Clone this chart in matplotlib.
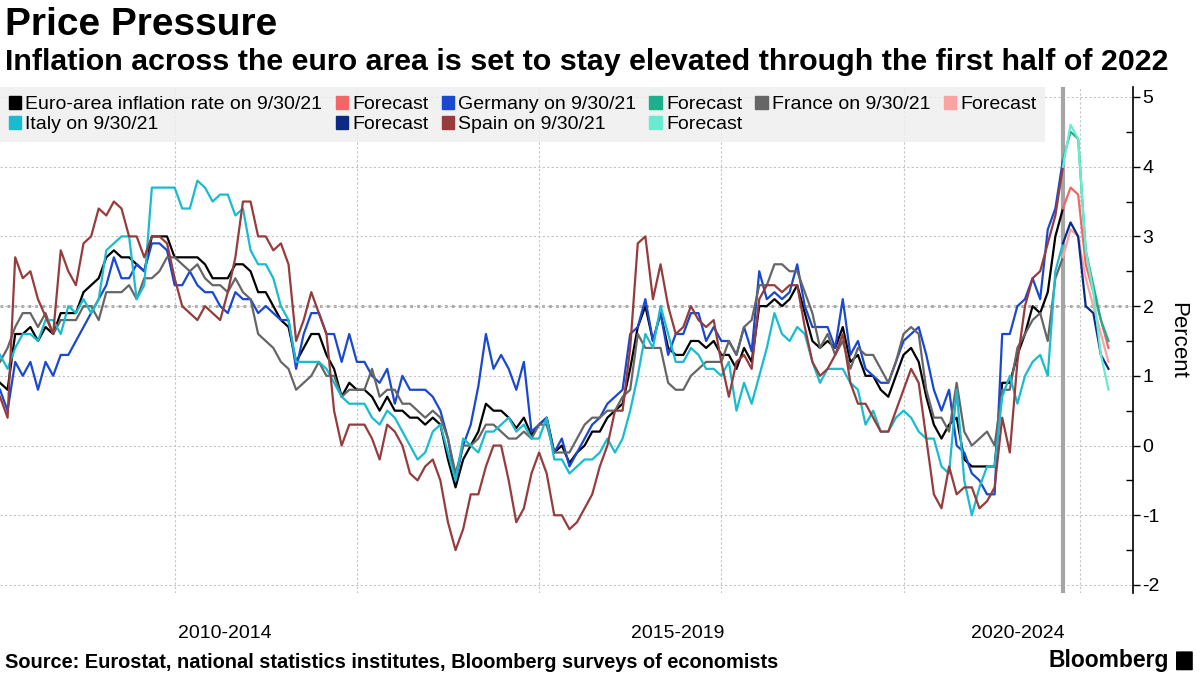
import numpy as np
import matplotlib.pyplot as plt
from matplotlib.patches import Patch, FancyBboxPatch

plt.rcParams['font.family'] = ['Liberation Sans', 'DejaVu Sans']
plt.rcParams['axes.unicode_minus'] = False

# monthly inflation, % y/y, index 0 = Jan 2010 ... 140 = Sep 2021
euro = [0.9, 0.8, 1.6, 1.6, 1.7, 1.5, 1.7, 1.6, 1.9, 1.9, 1.9, 2.2,
        2.3, 2.4, 2.7, 2.8, 2.7, 2.7, 2.6, 2.5, 3.0, 3.0, 3.0, 2.7,
        2.7, 2.7, 2.7, 2.6, 2.4, 2.4, 2.4, 2.6, 2.6, 2.5, 2.2, 2.2,
        2.0, 1.8, 1.7, 1.2, 1.4, 1.6, 1.6, 1.3, 1.1, 0.7, 0.9, 0.8,
        0.8, 0.7, 0.5, 0.7, 0.5, 0.5, 0.4, 0.4, 0.3, 0.4, 0.3, -0.2,
        -0.6, -0.2, 0.0, 0.2, 0.6, 0.5, 0.5, 0.4, 0.25, 0.4, 0.15, 0.3,
        0.4, -0.1, 0.0, -0.25, -0.1, 0.0, 0.2, 0.2, 0.4, 0.5, 0.6, 1.1,
        1.7, 2.0, 1.5, 1.9, 1.4, 1.3, 1.3, 1.5, 1.5, 1.4, 1.5, 1.3,
        1.3, 1.1, 1.4, 1.2, 2.0, 2.0, 2.1, 2.0, 2.1, 2.3, 1.9, 1.5,
        1.4, 1.5, 1.4, 1.7, 1.2, 1.3, 1.0, 1.0, 0.8, 0.7, 1.0, 1.3,
        1.4, 1.2, 0.7, 0.3, 0.1, 0.3, 0.4, -0.2, -0.3, -0.3, -0.3, -0.3,
        0.9, 0.9, 1.3, 1.6, 2.0, 1.9, 2.2, 3.0, 3.4]

germany = [0.8, 0.5, 1.2, 1.0, 1.2, 0.8, 1.2, 1.0, 1.3, 1.3, 1.5, 1.7,
           1.9, 2.1, 2.3, 2.7, 2.4, 2.4, 2.6, 2.5, 2.9, 2.9, 2.8, 2.3,
           2.3, 2.5, 2.3, 2.2, 2.2, 2.0, 1.9, 2.2, 2.1, 2.1, 1.9, 2.0,
           1.9, 1.8, 1.8, 1.1, 1.6, 1.9, 1.9, 1.6, 1.6, 1.2, 1.6, 1.2,
           1.2, 1.0, 0.9, 1.1, 0.6, 1.0, 0.8, 0.8, 0.8, 0.7, 0.5, 0.1,
           -0.5, 0.0, 0.3, 0.85, 1.6, 1.1, 1.3, 1.1, 0.8, 1.2, 0.2, 0.3,
           0.4, -0.1, 0.1, -0.3, -0.1, 0.1, 0.3, 0.4, 0.6, 0.7, 0.8, 1.6,
           1.7, 2.1, 1.5, 1.9, 1.3, 1.6, 1.6, 1.9, 1.9, 1.5, 1.7, 1.5,
           1.5, 1.3, 1.7, 1.35, 2.5, 2.1, 2.2, 2.1, 2.2, 2.6, 2.0, 1.7,
           1.7, 1.7, 1.4, 2.1, 1.3, 1.5, 1.1, 1.0, 0.9, 0.9, 1.2, 1.5,
           1.6, 1.7, 1.3, 0.8, 0.5, 0.8, 0.0, -0.1, -0.4, -0.5, -0.7, -0.7,
           1.6, 1.6, 2.0, 2.1, 2.4, 2.1, 3.1, 3.4, 4.1]

france = [1.2, 1.4, 1.7, 1.9, 1.9, 1.7, 1.9, 1.6, 1.8, 1.8, 1.8, 2.0,
          2.0, 1.8, 2.2, 2.2, 2.2, 2.3, 2.1, 2.4, 2.4, 2.5, 2.7, 2.7,
          2.6, 2.5, 2.6, 2.4, 2.3, 2.3, 2.2, 2.4, 2.2, 2.1, 1.6, 1.5,
          1.4, 1.2, 1.1, 0.8, 0.9, 1.0, 1.2, 1.0, 1.0, 0.7, 0.8, 0.8,
          0.8, 1.1, 0.7, 0.8, 0.8, 0.6, 0.6, 0.5, 0.4, 0.5, 0.4, 0.1,
          -0.4, 0.0, 0.0, 0.1, 0.3, 0.3, 0.2, 0.1, 0.1, 0.2, 0.1, 0.3,
          0.3, -0.1, -0.1, -0.1, 0.1, 0.3, 0.4, 0.4, 0.5, 0.5, 0.7, 0.8,
          1.6, 1.4, 1.4, 1.4, 0.9, 0.8, 0.8, 1.0, 1.1, 1.2, 1.2, 1.2,
          1.5, 1.3, 1.7, 1.8, 2.3, 2.3, 2.6, 2.6, 2.5, 2.5, 2.2, 1.9,
          1.4, 1.6, 1.3, 1.5, 1.1, 1.4, 1.3, 1.3, 1.1, 0.9, 1.2, 1.6,
          1.7, 1.6, 0.8, 0.4, 0.4, 0.2, 0.9, 0.2, 0.0, 0.1, 0.2, 0.0,
          0.8, 0.8, 1.4, 1.6, 1.8, 1.9, 1.5, 2.4, 2.7]

italy = [1.3, 1.1, 1.4, 1.6, 1.6, 1.5, 1.8, 1.8, 1.6, 2.0, 1.9, 2.1,
         1.9, 2.1, 2.8, 2.9, 3.0, 3.0, 2.1, 2.3, 3.7, 3.7, 3.7, 3.7,
         3.4, 3.4, 3.8, 3.7, 3.5, 3.6, 3.6, 3.3, 3.4, 2.8, 2.6, 2.6,
         2.4, 2.0, 1.8, 1.2, 1.2, 1.2, 1.2, 1.1, 0.9, 0.7, 0.6, 0.6,
         0.6, 0.4, 0.3, 0.5, 0.4, 0.2, 0.0, -0.2, -0.1, 0.2, 0.3, -0.1,
         -0.5, 0.1, 0.0, -0.1, 0.2, 0.2, 0.3, 0.4, 0.2, 0.3, 0.1, 0.1,
         0.4, -0.2, -0.2, -0.4, -0.3, -0.2, -0.2, -0.1, 0.1, -0.1, 0.1, 0.5,
         1.0, 1.6, 1.4, 2.0, 1.6, 1.2, 1.2, 1.4, 1.3, 1.1, 1.1, 1.0,
         1.2, 0.5, 0.9, 0.6, 1.0, 1.4, 1.9, 1.6, 1.5, 1.7, 1.6, 1.2,
         0.9, 1.1, 1.1, 1.1, 0.9, 0.8, 0.3, 0.5, 0.2, 0.2, 0.4, 0.5,
         0.4, 0.2, 0.1, 0.1, -0.3, -0.4, 0.8, -0.5, -1.0, -0.6, -0.3, -0.3,
         0.7, 1.0, 0.6, 1.0, 1.2, 1.3, 1.0, 2.5, 2.9]

spain = [0.7, 0.4, 2.7, 2.4, 2.5, 2.1, 1.85, 1.6, 2.8, 2.5, 2.3, 2.9,
         3.0, 3.4, 3.3, 3.5, 3.4, 3.0, 3.0, 2.7, 3.0, 3.0, 2.9, 2.4,
         2.0, 1.9, 1.8, 2.0, 1.9, 1.8, 2.2, 2.7, 3.5, 3.5, 3.0, 3.0,
         2.8, 2.9, 2.6, 1.5, 1.8, 2.2, 1.9, 1.6, 0.5, 0.0, 0.3, 0.3,
         0.3, 0.1, -0.2, 0.3, 0.2, 0.0, -0.4, -0.5, -0.3, -0.2, -0.5, -1.1,
         -1.5, -1.2, -0.7, -0.7, -0.3, 0.0, 0.0, -0.5, -1.1, -0.9, -0.4, -0.1,
         -0.4, -1.0, -1.0, -1.2, -1.1, -0.9, -0.7, -0.3, 0.0, 0.5, 0.5, 1.4,
         2.9, 3.0, 2.1, 2.6, 2.0, 1.6, 1.7, 2.0, 1.8, 1.7, 1.8, 1.2,
         0.7, 1.2, 1.3, 1.1, 2.1, 2.3, 2.3, 2.2, 2.3, 2.3, 1.7, 1.2,
         1.0, 1.1, 1.3, 1.6, 0.9, 0.6, 0.6, 0.4, 0.2, 0.2, 0.5, 0.8,
         1.1, 0.9, 0.1, -0.7, -0.9, -0.3, -0.7, -0.6, -0.6, -0.9, -0.8, -0.6,
         0.4, -0.1, 1.2, 2.0, 2.4, 2.5, 2.9, 3.3, 4.0]

# survey forecasts, Sep 2021 onward
fc_euro = [3.4, 3.7, 3.6, 2.6, 2.2, 1.8, 1.4]
fc_germany = [4.1, 4.5, 4.4, 2.8, 2.3, 1.8, 1.5]
fc_france = [2.7, 3.1, 3.0, 2.4, 2.0, 1.6, 1.2]
fc_italy = [2.9, 3.2, 3.0, 2.0, 1.9, 1.3, 1.1]
fc_spain = [4.0, 4.6, 4.4, 2.8, 2.2, 1.3, 0.8]

period_labels = ['2010-2014', '2015-2019', '2020-2024']
period_pos = [29.6, 89.2, 134.0]
grid_months = [23, 47, 71, 95, 119, 142.2]

months = np.arange(len(euro))
fc_months = np.arange(len(euro) - 1, len(euro) - 1 + len(fc_euro))

series = [
    ('Euro-area inflation rate on 9/30/21', euro, '#000000', fc_euro, '#f26666'),
    ('Germany on 9/30/21', germany, '#1a48d0', fc_germany, '#1daf8a'),
    ('France on 9/30/21', france, '#666666', fc_france, '#f9a3a3'),
    ('Italy on 9/30/21', italy, '#19bccf', fc_italy, '#0c2a85'),
    ('Spain on 9/30/21', spain, '#963c3c', fc_spain, '#6aebd0'),
]

fig = plt.figure(figsize=(12, 6.75), dpi=100)
ax = fig.add_axes([0.0, 0.1215, 0.944, 0.7496])

for name, vals, col, fc, fcol in series:
    ax.plot(months, vals, color=col, lw=1.6, zorder=3)
for name, vals, col, fc, fcol in series:
    ax.plot(fc_months, fc, color=fcol, lw=1.6, zorder=3)

ax.axvline(len(euro) - 1, color='#a5a5a5', lw=3, zorder=2)
ax.axhline(2, color='#a0a0a0', lw=2, ls=(0, (1, 1.5)), zorder=1)

ax.set_xlim(0, 149.2)
ax.set_ylim(-2.115, 5.143)
ax.set_yticks(range(-2, 6))
ax.set_yticks(np.arange(-1.5, 5, 1), minor=True)
ax.set_xticks(grid_months)
ax.set_xticklabels([])
ax.tick_params(axis='x', length=0)
ax.grid(True, which='major', color='#c4c4c4', lw=0.8, ls=(0, (2, 2)), zorder=0)
ax.yaxis.tick_right()
ax.tick_params(axis='y', which='major', direction='out', length=5, width=1,
               labelsize=14, pad=2)
ax.tick_params(axis='y', which='minor', direction='in', length=5, width=1)
for s in ['top', 'left', 'bottom']:
    ax.spines[s].set_visible(False)
ax.spines['right'].set_linewidth(1.2)
ax.yaxis.set_label_position('right')
ax.set_ylabel('Percent', rotation=270, fontsize=16, labelpad=20)

for lab, pos in zip(period_labels, period_pos):
    ax.text(pos, -0.081, lab, transform=ax.get_xaxis_transform(),
            ha='center', va='center', fontsize=14)

# legend laid out row-wise in 6 columns (matplotlib fills column-wise)
h = {}
for name, vals, col, fc, fcol in series:
    h[name] = Patch(color=col, label=name)
    h[name + 'fc'] = Patch(color=fcol, label='Forecast')
names = [s[0] for s in series]
order = [names[0], names[3], names[0] + 'fc', names[3] + 'fc',
         names[1], names[4], names[1] + 'fc', names[4] + 'fc',
         names[2], names[2] + 'fc']
leg = ax.legend([h[k] for k in order], [h[k].get_label() for k in order],
                ncol=6, loc='upper left', bbox_to_anchor=(0.0, 1.0),
                borderaxespad=0, fontsize=14, frameon=True, fancybox=False,
                facecolor='#efefef', edgecolor='none', framealpha=0.85,
                handlelength=0.65, handleheight=0.65, handletextpad=0.2,
                columnspacing=0.68, labelspacing=0.15, borderpad=0.45)
leg.set_zorder(5)

fig.text(0.004, 0.963, 'Price Pressure', fontsize=28, fontweight='bold',
         ha='left', va='center')
fig.text(0.004, 0.908, 'Inflation across the euro area is set to stay elevated '
         'through the first half of 2022', fontsize=21.9, fontweight='bold',
         ha='left', va='center')
fig.text(0.004, 0.019, 'Source: Eurostat, national statistics institutes, '
         'Bloomberg surveys of economists', fontsize=14.4, fontweight='bold',
         ha='left', va='center')
fig.text(0.974, 0.022, 'Bloomberg', fontsize=16.5, fontweight='bold',
         ha='right', va='center')
fig.patches.append(FancyBboxPatch((0.981, 0.008), 0.012, 0.026,
                                  boxstyle='round,pad=0.001', fc='black',
                                  ec='none', transform=fig.transFigure,
                                  figure=fig))

fig.savefig('out.png', dpi=100)
